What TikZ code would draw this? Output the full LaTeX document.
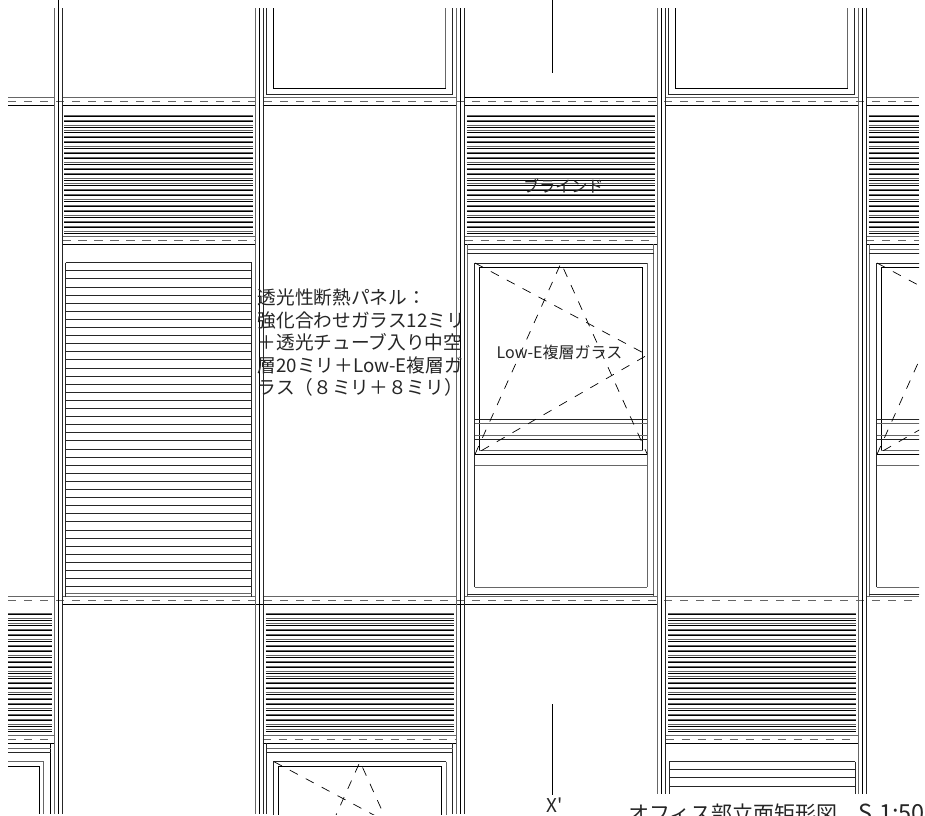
\documentclass[tikz,border=0pt]{standalone}
\usepackage{fontspec}
\setmainfont{Noto Sans CJK JP}
\newfontfamily\plainf{Noto Sans CJK JP}
\tikzset{
  ln/.style={line width=0.9pt,black!85},
  dk/.style={line width=0.9pt,black},
  gl/.style={line width=1pt,black!60},
  bd/.style={line width=1pt,black!60,dash pattern=on 8.3pt off 7.7pt},
  xd/.style={line width=0.7pt,black,dash pattern=on 9pt off 9pt},
  lab/.style={inner sep=0pt,text=black!85}
}
\newcommand{\blindrow}[3]{% x1 x2 ytop
  \foreach \i in {0,...,22}{
    \pgfmathsetmacro{\yy}{#3+5.3*\i}
    \draw[gl] (#1,\yy) -- (#2,\yy);
    \draw[dk] (#1,\yy+1.4) -- (#2,\yy+1.4);
  }
}
\newcommand{\sashwin}[2]{% dx dy: window, centre bay coordinates
  \begin{scope}[shift={(#1,#2)}]
    \draw[ln] (474.7,587) -- (474.7,263) -- (647.3,263);
    \draw[dk] (479.3,450) -- (479.3,267.3) -- (642.7,267.3) -- (642.7,450);
    \draw[gl] (647.3,263) -- (647.3,587);
    \draw[ln] (474.7,419) -- (647.3,419);
    \draw[gl] (474.7,423.7) -- (647.3,423.7);
    \draw[gl] (474.7,435) -- (647.3,435);
    \draw[ln] (474.7,439.3) -- (647.3,439.3);
    \draw[gl] (479.3,450) -- (642.7,450);
    \draw[dk] (474.7,454.3) -- (647.3,454.3);
    \draw[gl] (474.7,465.7) -- (647.3,465.7);
    \draw[gl] (474.7,587) -- (647.3,587);
    \draw[xd] (475,263) -- (647.3,355) -- (475,454.3);
    \draw[xd] (475,454.3) -- (561,263) -- (647.3,454.3);
  \end{scope}
}
\begin{document}
\begin{tikzpicture}[x=1pt,y=-1pt]
\useasboundingbox (0,0) rectangle (925,815);
\fill[white] (0,0) rectangle (925,815);
\begin{scope}
\clip (8,8) rectangle (919,814);
% horizontal bands
\foreach \a/\b in {8/54.2,62.2/255.7,262.5/456.7,464.7/657.3,665.7/858,866/919}{
  \draw[gl] (\a,97.7) -- (\b,97.7);
  \draw[dk] (\a,105) -- (\b,105);
}
\draw[bd] (8,101.5) -- (919,101.5);
\draw[line width=1.1pt,black] (464.7,97.7) -- (657.3,97.7);
\foreach \a/\b in {8/54.2,62.2/255.7,262.5/456.7,464.7/657.3,665.7/858,866/919}{
  \draw[gl] (\a,596.7) -- (\b,596.7);
}
\draw[dk] (62.2,604.3) -- (657.3,604.3);
\draw[bd] (8,600.8) -- (919,600.8);
% blind bottom bands (row 2)
\foreach \a/\b in {62.2/255.7,464.7/657.3,866/919}{
  \draw[gl] (\a,236.8) -- (\b,236.8);
  \draw[bd] (\a,240.8) -- (\b,240.8);
  \draw[dk] (\a,244.4) -- (\b,244.4);
}
% lower bands (row 4)
\foreach \a/\b in {8/54.2,262.5/456.7,665.7/858}{
  \draw[gl] (\a,735.3) -- (\b,735.3);
  \draw[bd] (\a,739.6) -- (\b,739.6);
  \draw[dk] (\a,743.3) -- (\b,743.3);
}
% blinds
\blindrow{64.2}{253}{115}
\blindrow{466.7}{655}{115}
\blindrow{868.5}{919}{115}
\blindrow{8}{51.7}{613.3}
\blindrow{265.7}{454}{613.3}
\blindrow{668}{856}{613.3}
% panel bay 0
\draw[ln] (65.7,262.7) -- (65.7,596.7);
\draw[ln] (251.7,262.7) -- (251.7,596.7);
\foreach \i in {0,...,40}{
  \pgfmathsetmacro{\yy}{262.7+8.1*\i}
  \draw[ln] (65.7,\yy) -- (251.7,\yy);
}
\draw[gl] (65.7,593.7) -- (251.7,593.7);
% panel bay 3 bottom
\draw[ln] (669,761.7) -- (669,814);
\draw[ln] (855.3,761.7) -- (855.3,814);
\foreach \i in {0,...,6}{
  \pgfmathsetmacro{\yy}{761.7+8.1*\i}
  \draw[ln] (669,\yy) -- (855.3,\yy);
}
% frames centre bay
\foreach \dx in {0,402}{
  \begin{scope}[xshift=\dx pt]
    \draw[gl] (467.3,244.4) -- (467.3,596.7);
    \draw[gl] (653.5,244.4) -- (653.5,596.7);
    \draw[gl] (467.3,249.6) -- (653.5,249.6);
    \draw[ln] (467.3,253.8) -- (653.5,253.8);
    \draw[ln] (467.3,594) -- (653.5,594);
  \end{scope}
}
\sashwin{0}{0}
\sashwin{402}{0}
\sashwin{-201}{498.7}
% upper windows bays 1,3
\foreach \dx in {0,402}{
  \begin{scope}[xshift=\dx pt]
    \draw[dk] (273.4,8) -- (273.4,88) -- (445.8,88);
    \draw[gl] (445.8,8) -- (445.8,88);
    \draw[ln] (266.7,8) -- (266.7,94.7) -- (452.4,94.7) -- (452.4,8);
  \end{scope}
}
% lower frame bay 1
\draw[ln] (266.7,743.3) -- (266.7,814);
\draw[ln] (452.7,743.3) -- (452.7,814);
\draw[gl] (266.7,748.3) -- (452.7,748.3);
\draw[ln] (266.7,752.4) -- (452.7,752.4);
% lower-left corner
\draw[dk] (50.7,743.3) -- (50.7,814);
\draw[gl] (8,748.3) -- (50.7,748.3);
\draw[ln] (8,752.4) -- (50.7,752.4);
\draw[gl] (8,761.7) -- (43.7,761.7) -- (43.7,814);
\draw[dk] (8,766) -- (39.3,766) -- (39.3,814);
% mullions
\foreach \m in {54.2,255.7,456.7,657.3,858}{
  \draw[gl] (\m,8) -- (\m,814);
  \draw[dk] (\m+4,8) -- (\m+4,814);
  \draw[ln] (\m+8,8) -- (\m+8,814);
}
\end{scope}
% section lines
\coordinate (sa) at (58.3,0);
\coordinate (sb) at (58.3,91.7);
\draw[dk] (sa) -- (sb);
\coordinate (sc) at (552.6,0);
\coordinate (sd) at (552.6,73);
\draw[dk] (sc) -- (sd);
\coordinate (se) at (552.6,704);
\coordinate (sf) at (552.6,795);
\draw[dk] (se) -- (sf);
% title mask
\fill[white] (628,793.5) rectangle (925,815);
% labels
\node[lab,font=\fontsize{16}{16}\selectfont] (blind) at (563.3,185.5) {ブラインド};
\node[lab,font=\fontsize{16}{16}\selectfont] (lowe) at (559.5,352) {Low-E複層ガラス};
\node[lab,font=\fontsize{18.7}{22.6}\selectfont,anchor=north west,align=left] (panel) at (257.5,288.5)
  {透光性断熱パネル：\\強化合わせガラス12ミリ\\＋透光チューブ入り中空\\層20ミリ＋Low-E複層ガ\\ラス（８ミリ＋８ミリ）};
\node[lab,font=\plainf\fontsize{19}{19}\selectfont] (xp) at (554.5,805.5) {X'};
\node[lab,font=\fontsize{21}{21}\selectfont,anchor=base west] (title) at (628,821.5) {オフィス部立面矩形図　{\fontsize{23.5}{23.5}\selectfont S\hspace{1pt} 1:50}};
\end{tikzpicture}
\end{document}
